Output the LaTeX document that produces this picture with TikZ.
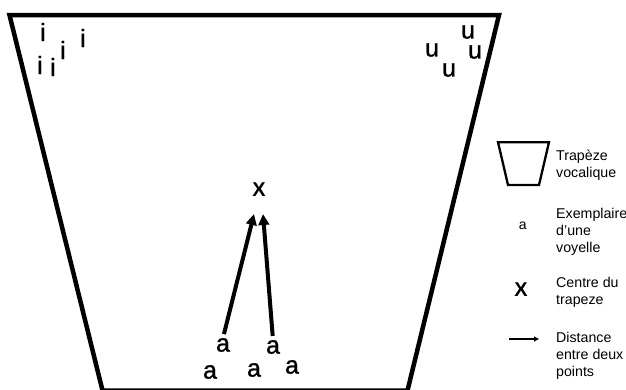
\documentclass[tikz,border=0pt]{standalone}
\usepackage{fontspec}
\setmainfont{Liberation Sans}
\newfontfamily\vowelfont[FakeBold=1.2]{Liberation Sans}
\usetikzlibrary{arrows.meta}
\begin{document}
\begin{tikzpicture}[x=1pt,y=-1pt,
  vowel/.style={inner sep=0pt,font=\vowelfont\fontsize{25}{25}\selectfont},
  centre/.style={inner sep=0pt,font=\fontsize{20}{20}\selectfont\bfseries},
  legendtext/.style={anchor=west,inner sep=0pt,align=left,font=\fontsize{14.2}{17}\selectfont},
  distarrow/.style={line width=4pt,-{Triangle[length=11pt,width=10.5pt]}}]
\clip (0,0) rectangle (626,389);
\draw[line width=4.5pt,line join=miter] (9.5,15) -- (499,15) -- (407.5,390.5) -- (102.5,390.5) -- cycle;
\foreach \x/\y [count=\k] in {43/32,40/65,53/67,63/50,83/38}
  \node[vowel] (i\k) at (\x,\y) {i};
\foreach \x/\y [count=\k] in {432/50,449/70,468/32,475/52}
  \node[vowel] (u\k) at (\x,\y) {u};
\foreach \x/\y [count=\k] in {223/345,273/347,210/372,254/370,292/367}
  \node[vowel] (a\k) at (\x,\y) {a};
\node[centre] (x) at (259,190) {X};
\coordinate (tipL) at (254,214);
\coordinate (tipR) at (263,214);
\draw[distarrow,shorten <=4pt] (a1.north) -- (tipL);
\draw[distarrow,shorten <=4pt] (a2.north) -- (tipR);
\draw[line width=2.3pt,line join=miter] (498,142.2) -- (549,142.2) -- (539,185) -- (508,185) -- cycle;
\node[legendtext] (ltrap) at (556,165) {Trapèze\\vocalique};
\node[inner sep=0pt,font=\fontsize{14}{14}\selectfont] (la) at (522.7,225.5) {a};
\node[legendtext] (lvow) at (556,232) {Exemplaire\\d’une\\voyelle};
\node[centre] (lx) at (521,290) {X};
\node[legendtext] (lcen) at (556,292) {Centre du\\trapeze};
\coordinate (arrS) at (509,339);
\coordinate (arrE) at (539,339);
\draw[line width=1.6pt,-{Triangle[length=5pt,width=5pt]}] (arrS) -- (arrE);
\node[legendtext] (ldist) at (556,356) {Distance\\entre deux\\points};
\end{tikzpicture}
\end{document}
